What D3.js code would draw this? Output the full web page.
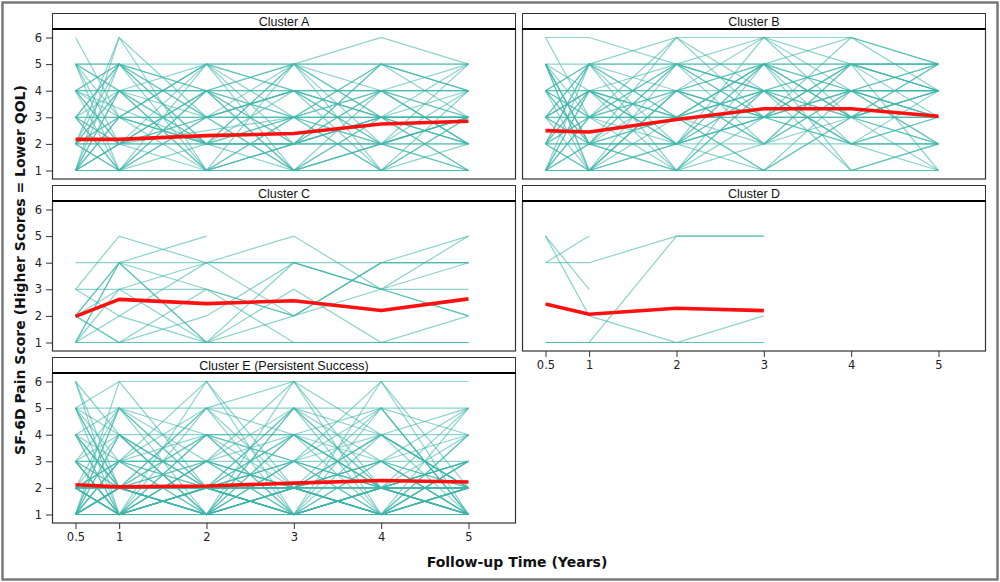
<!DOCTYPE html>
<html><head><meta charset="utf-8">
<script src="https://cdn.jsdelivr.net/npm/d3@7"></script>
<style>body{margin:0;background:#fff}svg{display:block}</style>
</head><body>
<script>
const times = [0.5, 1, 2, 3, 4, 5];
const timeLabels = ["0.5", "1", "2", "3", "4", "5"];
const yTicks = [1, 2, 3, 4, 5, 6];
const clusterNames = ["Cluster A", "Cluster B", "Cluster C", "Cluster D", "Cluster E (Persistent Success)"];
const xTitle = "Follow-up Time (Years)";
const yTitle = "SF-6D Pain Score (Higher Scores = Lower QOL)";

// mean trajectories (red)
const meanA = [2.17, 2.17, 2.31, 2.39, 2.75, 2.85];
const meanB = [2.50, 2.45, 2.92, 3.32, 3.32, 3.04];
const meanC = [1.98, 2.62, 2.46, 2.57, 2.20, 2.64];
const meanD = [2.45, 2.06, 2.29, 2.20, null, null];
const meanE = [2.12, 2.04, 2.07, 2.18, 2.28, 2.22];

// individual trajectories (teal), values at times 0.5,1,2,3,4,5 (null = missing)
const trajA = [
[6,3,2,2,3,3],[1,6,1,2,2,1],[2,6,3,3,4,4],[5,5,5,5,5,5],[5,4,3,3,3,3],[4,4,4,4,4,4],
[3,3,3,3,3,3],[2,2,2,2,2,2],[1,1,1,1,1,1],[1,1,1,1,1,1],[1,2,1,1,1,1],[5,1,3,5,6,5],
[4,5,2,4,3,3],[3,1,4,2,5,4],[2,4,5,3,2,1],[1,5,2,1,3,2],[5,2,4,5,4,2],[4,3,1,5,1,4],
[3,5,3,1,4,3],[2,3,5,4,2,5],[1,4,2,3,5,4],[4,1,1,2,3,3],[3,2,4,1,2,2],[2,5,3,4,3,1],
[1,3,5,2,4,5],[5,3,2,3,1,3],[4,2,5,1,3,2],[3,4,1,3,5,5],[2,1,2,5,3,4],[1,2,3,4,4,3],
[4,5,4,2,2,3],[3,3,5,5,2,3],[2,4,1,3,4,2],[1,3,2,5,3,1],[5,4,4,1,2,4],[3,1,3,4,1,3],
[4,4,2,2,5,3],[2,2,4,3,1,2],[1,1,5,4,3,3],[3,2,2,2,4,4],[2,3,3,1,2,3],[5,5,4,3,3,3],
[4,2,3,4,4,2],[1,4,4,5,5,4],[3,5,1,2,3,5],[2,1,4,4,2,3],[1,2,null,3,2,3],[4,null,2,2,3,2]
];
const trajB = [
[6,6,5,6,6,5],[6,3,6,4,5,4],[5,2,6,6,4,3],[4,5,6,3,6,5],[3,4,2,6,5,4],[2,5,4,6,3,5],
[1,3,5,5,6,4],[5,5,5,5,5,5],[4,4,4,4,4,4],[3,3,3,3,3,3],[2,2,2,2,2,2],[1,1,1,1,1,1],
[1,1,1,1,1,1],[5,1,3,4,2,2],[4,2,1,3,4,5],[3,5,3,1,3,2],[2,1,4,5,4,3],[1,4,2,3,5,4],
[5,3,4,2,3,1],[4,1,5,4,1,2],[3,2,1,5,3,4],[2,4,3,2,5,5],[1,5,5,3,3,3],[5,4,2,4,4,4],
[4,3,3,5,2,3],[3,1,2,4,5,5],[2,3,5,4,4,2],[1,2,3,3,4,4],[5,2,2,3,3,4],[4,5,1,2,4,3],
[3,4,4,3,5,5],[2,2,5,4,3,4],[1,3,1,4,2,2],[3,3,4,5,4,4],[2,1,2,3,4,3],[4,4,3,1,3,5],
[1,1,4,2,5,1],[5,2,5,3,2,4],[3,5,2,5,1,2],[2,4,1,4,3,3],[4,2,2,1,4,2],[1,2,3,5,3,4],
[3,4,5,2,4,5],[2,3,3,4,2,1],[5,1,4,3,5,3],[4,3,2,5,3,2],[1,4,3,4,4,4],[3,2,4,3,2,3],
[2,5,3,5,5,4]
];
const trajC = [
[3,5,4,2,3,4],[2,4,5,null,null,null],[4,4,4,4,3,2],[3,3,3,2,4,4],[1,4,1,4,3,5],
[2,3,4,5,3,3],[1,1,1,1,1,1],[1,1,1,1,1,1],[2,1,2,4,4,4],[1,3,1,3,1,2],
[2,4,1,1,1,1],[1,2,4,4,3,2],[3,2,1,2,4,4],[2,1,3,1,1,1],[1,4,3,2,4,5]
];
const trajD = [
[4,5,null,null,null,null],[4,4,5,5,null,null],[5,3,null,null,null,null],
[5,2,1,2,null,null],[1,1,5,5,null,null],[1,1,1,1,null,null],[1,1,1,1,null,null]
];
const trajE = [
[6,1,3,6,4,2],[6,4,2,1,2,1],[5,6,6,6,6,6],[1,6,2,5,3,1],[2,3,6,2,1,2],[1,2,5,6,1,3],
[3,1,4,3,6,2],[4,2,1,4,5,1],[5,5,5,5,5,5],[4,4,4,4,4,4],[3,3,3,3,3,3],[2,2,2,2,2,2],
[2,2,2,2,2,2],[1,1,1,1,1,1],[1,1,1,1,1,1],[1,1,1,1,1,1],[1,1,1,1,1,1],[2,1,1,2,1,1],
[1,2,2,1,2,2],[5,1,3,2,4,5],[4,5,2,1,3,4],[3,4,1,5,2,3],[2,5,4,3,1,2],[1,3,5,4,3,1],
[5,2,4,1,2,3],[4,1,2,3,4,2],[3,2,5,1,1,4],[2,4,1,2,5,1],[1,5,3,4,2,5],[5,3,1,2,3,1],
[4,3,4,1,2,2],[3,1,2,4,1,3],[2,2,3,5,4,1],[1,4,1,3,5,4],[5,4,2,3,1,2],[4,2,3,2,3,5],
[3,5,1,1,4,2],[2,1,4,4,2,3],[1,3,2,5,1,4],[2,2,1,3,2,1],[1,1,3,2,3,2],[3,2,2,1,1,1],
[2,3,1,1,2,2],[1,2,4,2,1,1],[1,1,2,3,2,3],[2,1,2,1,3,2],[3,3,2,2,1,1],[1,2,1,2,4,2],
[2,1,3,1,1,2],[4,1,1,2,2,1],[1,4,2,1,1,3],[2,2,1,4,2,2],[1,3,3,1,2,1],[3,1,1,3,2,2],
[1,2,2,2,3,1],[2,1,1,1,2,4],[1,1,2,1,1,2],[5,2,1,1,2,1],[1,5,2,2,1,1],[2,1,5,2,1,2],
[1,2,1,5,2,1],[2,1,2,1,5,1],[1,1,1,2,1,5],[4,2,2,2,1,2],[3,1,2,2,2,1],[2,3,3,2,2,3],
[1,2,2,4,2,1],[1,1,2,2,4,2],[6,2,1,2,1,3],[1,1,6,1,2,1],[2,2,1,6,2,2],[1,2,2,1,6,1]
];

const panels = [
  {name: clusterNames[0], traj: trajA, mean: meanA, col: 0, row: 0, yAxis: true,  xAxis: false},
  {name: clusterNames[1], traj: trajB, mean: meanB, col: 1, row: 0, yAxis: false, xAxis: false},
  {name: clusterNames[2], traj: trajC, mean: meanC, col: 0, row: 1, yAxis: true,  xAxis: false},
  {name: clusterNames[3], traj: trajD, mean: meanD, col: 1, row: 1, yAxis: false, xAxis: true},
  {name: clusterNames[4], traj: trajE, mean: meanE, col: 0, row: 2, yAxis: true,  xAxis: true}
];

const W = 1000, H = 582;
const colLeft = [52, 522], panelW = 464;
const rowTop = [13, 185, 357], headH = 16, plotH = 150;

const svg = d3.select("body").append("svg").attr("width", W).attr("height", H);
svg.append("rect").attr("x", 0).attr("y", 0).attr("width", W).attr("height", H).attr("fill", "#fff");
svg.append("rect").attr("x", 2.5).attr("y", 2.5).attr("width", W - 5).attr("height", H - 5)
  .attr("fill", "none").attr("stroke", "#7a7a7a").attr("stroke-width", 2.5);

panels.forEach(p => {
  const left = colLeft[p.col], top = rowTop[p.row];
  const pTop = top + headH, pBot = pTop + plotH;
  const x = d3.scaleLinear().domain([0.5, 5]).range([left + 23.5, left + 416.5]);
  const y = d3.scaleLinear().domain([1, 6]).range([pBot - 8.5, pTop + 8.5]);
  const g = svg.append("g");

  // header
  g.append("rect").attr("x", left + 0.5).attr("y", top + 0.5).attr("width", panelW - 1).attr("height", headH)
    .attr("fill", "#fff").attr("stroke", "#333").attr("stroke-width", 1);
  g.append("text").attr("x", left + panelW / 2).attr("y", top + 12.5).attr("text-anchor", "middle")
    .attr("font-family", "Liberation Sans, Arial, sans-serif").attr("font-size", 12.5).attr("fill", "#111")
    .text(p.name);

  // plot frame
  g.append("rect").attr("x", left + 0.5).attr("y", pTop).attr("width", panelW - 1).attr("height", plotH)
    .attr("fill", "#fff").attr("stroke", "#333").attr("stroke-width", 1.2);

  const line = d3.line().x(d => x(d.t)).y(d => y(d.v));
  p.traj.forEach(tr => {
    const pts = tr.map((v, i) => ({t: times[i], v})).filter(d => d.v != null);
    g.append("path").attr("d", line(pts)).attr("fill", "none")
      .attr("stroke", "rgb(62,182,170)").attr("stroke-opacity", 0.6).attr("stroke-width", 1.2);
  });
  const mpts = p.mean.map((v, i) => ({t: times[i], v})).filter(d => d.v != null);
  g.append("path").attr("d", line(mpts)).attr("fill", "none")
    .attr("stroke", "#ff1010").attr("stroke-width", 3.6).attr("stroke-linejoin", "round");

  // header bottom thick line
  g.append("line").attr("x1", left).attr("x2", left + panelW).attr("y1", pTop).attr("y2", pTop)
    .attr("stroke", "#000").attr("stroke-width", 2.2);

  if (p.yAxis) {
    const ya = g.append("g").attr("transform", `translate(${left},0)`)
      .call(d3.axisLeft(y).tickValues(yTicks).tickSize(6).tickPadding(4).tickFormat(d3.format("d")));
    ya.select(".domain").remove();
    ya.selectAll("line").attr("stroke", "#333");
    ya.selectAll("text").attr("font-family", "DejaVu Sans, sans-serif").attr("font-size", 11.5).attr("fill", "#222");
  }
  if (p.xAxis) {
    const xa = g.append("g").attr("transform", `translate(0,${pBot})`)
      .call(d3.axisBottom(x).tickValues(times).tickSize(6).tickPadding(4).tickFormat((d, i) => timeLabels[i]));
    xa.select(".domain").remove();
    xa.selectAll("line").attr("stroke", "#333");
    xa.selectAll("text").attr("font-family", "DejaVu Sans, sans-serif").attr("font-size", 11.5).attr("fill", "#222");
  }
});

svg.append("text").attr("x", 517).attr("y", 567).attr("text-anchor", "middle")
  .attr("font-family", "DejaVu Sans, sans-serif").attr("font-weight", "bold").attr("font-size", 14).attr("fill", "#111")
  .text(xTitle);
svg.append("text").attr("transform", "translate(25,270) rotate(-90)").attr("text-anchor", "middle")
  .attr("font-family", "DejaVu Sans, sans-serif").attr("font-weight", "bold").attr("font-size", 14).attr("fill", "#111")
  .text(yTitle);
</script>
</body></html>
